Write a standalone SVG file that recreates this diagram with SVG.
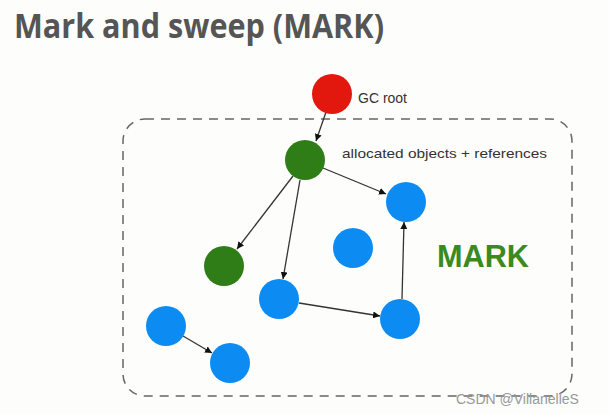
<svg xmlns="http://www.w3.org/2000/svg" width="609" height="414" viewBox="0 0 609 414">
<style>
.blue{fill:#0c8cf2}
.green{fill:#2f7d17}
.red{fill:#e2170e}
.edge{stroke:#333;stroke-width:1.3;fill:none;marker-end:url(#ah)}
.lbl{font-family:"Liberation Sans",Arial,sans-serif;fill:#333}
</style>
<defs>
<marker id="ah" viewBox="0 0 10 10" refX="10" refY="5" markerWidth="7" markerHeight="7" markerUnits="userSpaceOnUse" orient="auto">
<path d="M0,0 L10,5 L0,10 z" fill="#111"/>
</marker>
</defs>
<rect width="609" height="414" fill="#fdfdfc"/>
<text x="14" y="38" font-family="'Open Sans','DejaVu Sans',sans-serif" font-weight="bold" font-size="34" fill="#555" textLength="370" lengthAdjust="spacingAndGlyphs">Mark and sweep (MARK)</text>
<rect x="123" y="119" width="449" height="277" rx="22" fill="none" stroke="#666" stroke-width="1.5" stroke-dasharray="9,7"/>
<g id="connectors">
<line class="edge" x1="326" y1="112" x2="316" y2="141"/>
<line class="edge" x1="323" y1="168" x2="386" y2="194"/>
<line class="edge" x1="293" y1="176" x2="237" y2="249"/>
<line class="edge" x1="300" y1="180" x2="283" y2="279"/>
<line class="edge" x1="299" y1="303" x2="380" y2="316"/>
<line class="edge" x1="402" y1="299" x2="404" y2="222"/>
<line class="edge" x1="183" y1="336" x2="212" y2="353"/>
</g>
<g id="gcroot"><circle class="red" cx="332" cy="94" r="20"/><text class="lbl" x="358" y="103" font-size="14">GC root</text></g>
<g id="g1"><circle class="green" cx="305" cy="160" r="20"/></g>
<text class="lbl" x="342" y="158" font-size="13" textLength="205" lengthAdjust="spacingAndGlyphs">allocated objects + references</text>
<g id="b1"><circle class="blue" cx="406" cy="202" r="20"/></g>
<g id="g2"><circle class="green" cx="224" cy="266" r="20"/></g>
<g id="b2"><circle class="blue" cx="353" cy="248" r="20"/></g>
<g id="b3"><circle class="blue" cx="279" cy="299" r="20"/></g>
<g id="b4"><circle class="blue" cx="400" cy="319" r="20"/></g>
<g id="b5"><circle class="blue" cx="166" cy="326" r="20"/></g>
<g id="b6"><circle class="blue" cx="230" cy="363" r="20"/></g>
<text x="437" y="267" font-family="'Liberation Sans',Arial,sans-serif" font-weight="bold" font-size="31" fill="#3b8a1e" textLength="92" lengthAdjust="spacingAndGlyphs">MARK</text>
<text x="456" y="404" font-family="'Liberation Sans',Arial,sans-serif" font-size="14" fill="#999">CSDN @VillanelleS</text>
</svg>
